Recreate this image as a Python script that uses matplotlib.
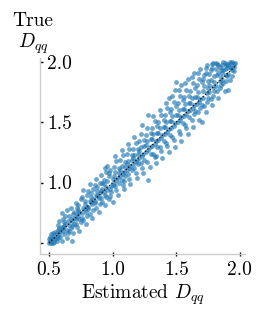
import matplotlib
matplotlib.use('Agg')
import matplotlib.pyplot as plt

# estimated vs true D_qq, read off the picture by bins along the diagonal
est = [
    0.50, 0.51, 0.52, 0.51, 0.53, 0.52, 0.54, 0.53, 0.55, 0.54, 0.50, 0.52, 0.55, 0.53,
    0.56, 0.57, 0.56, 0.58, 0.57, 0.59, 0.58, 0.56, 0.59, 0.60, 0.57, 0.58, 0.60,
    0.61, 0.60, 0.62, 0.63, 0.61, 0.64, 0.62, 0.65, 0.63, 0.64, 0.62, 0.65, 0.61, 0.64,
    0.66, 0.68, 0.67, 0.66, 0.69, 0.68, 0.67, 0.70, 0.69, 0.66, 0.70, 0.68, 0.67, 0.70,
    0.71, 0.72, 0.73, 0.71, 0.74, 0.72, 0.75, 0.73, 0.74, 0.71, 0.75, 0.72, 0.74, 0.73,
    0.76, 0.77, 0.78, 0.76, 0.79, 0.77, 0.80, 0.78, 0.79, 0.76, 0.80, 0.78, 0.77, 0.80,
    0.81, 0.82, 0.83, 0.81, 0.84, 0.82, 0.85, 0.83, 0.84, 0.81, 0.85, 0.83, 0.82, 0.85,
    0.86, 0.87, 0.88, 0.86, 0.89, 0.87, 0.90, 0.88, 0.89, 0.86, 0.90, 0.88, 0.87, 0.90,
    0.91, 0.92, 0.93, 0.91, 0.94, 0.92, 0.95, 0.93, 0.94, 0.91, 0.95, 0.93, 0.92, 0.95, 0.94,
    0.96, 0.97, 0.98, 0.96, 0.99, 0.97, 1.00, 0.98, 0.99, 0.96, 1.00, 0.98, 0.97, 1.00,
    1.01, 1.02, 1.03, 1.01, 1.04, 1.02, 1.05, 1.03, 1.04, 1.01, 1.05, 1.03, 1.02, 1.05,
    1.06, 1.07, 1.08, 1.06, 1.09, 1.07, 1.10, 1.08, 1.09, 1.06, 1.10, 1.08, 1.07, 1.10, 1.09,
    1.11, 1.12, 1.13, 1.11, 1.14, 1.12, 1.15, 1.13, 1.14, 1.11, 1.15, 1.13, 1.12, 1.15,
    1.16, 1.17, 1.18, 1.16, 1.19, 1.17, 1.20, 1.18, 1.19, 1.16, 1.20, 1.18, 1.17, 1.20,
    1.21, 1.22, 1.23, 1.21, 1.24, 1.22, 1.25, 1.23, 1.24, 1.21, 1.25, 1.23, 1.22, 1.25,
    1.26, 1.27, 1.28, 1.26, 1.29, 1.27, 1.30, 1.28, 1.29, 1.26, 1.30, 1.28, 1.27, 1.30,
    1.31, 1.32, 1.33, 1.31, 1.34, 1.32, 1.35, 1.33, 1.34, 1.31, 1.35, 1.33, 1.32, 1.35, 1.34,
    1.36, 1.37, 1.38, 1.36, 1.39, 1.37, 1.40, 1.38, 1.39, 1.36, 1.40, 1.38, 1.37, 1.40,
    1.41, 1.42, 1.43, 1.41, 1.44, 1.42, 1.45, 1.43, 1.44, 1.41, 1.45, 1.43, 1.42, 1.45, 1.44,
    1.46, 1.47, 1.48, 1.46, 1.49, 1.47, 1.50, 1.48, 1.49, 1.46, 1.50, 1.48, 1.47, 1.50, 1.49,
    1.51, 1.52, 1.53, 1.51, 1.54, 1.52, 1.55, 1.53, 1.54, 1.51, 1.55, 1.53, 1.52, 1.55, 1.54,
    1.56, 1.57, 1.58, 1.56, 1.59, 1.57, 1.60, 1.58, 1.59, 1.56, 1.60, 1.58, 1.57, 1.60, 1.59,
    1.61, 1.62, 1.63, 1.61, 1.64, 1.62, 1.65, 1.63, 1.64, 1.61, 1.65, 1.63, 1.62, 1.65, 1.64,
    1.66, 1.67, 1.68, 1.66, 1.69, 1.67, 1.70, 1.68, 1.69, 1.66, 1.70, 1.68, 1.67, 1.70, 1.69,
    1.71, 1.72, 1.73, 1.71, 1.74, 1.72, 1.75, 1.73, 1.74, 1.71, 1.75, 1.73, 1.72, 1.75, 1.74,
    1.76, 1.77, 1.78, 1.76, 1.79, 1.77, 1.80, 1.78, 1.79, 1.76, 1.80, 1.78, 1.77, 1.80, 1.79,
    1.81, 1.82, 1.83, 1.81, 1.84, 1.82, 1.85, 1.83, 1.84, 1.81, 1.85, 1.83, 1.82, 1.85, 1.84,
    1.86, 1.87, 1.88, 1.86, 1.89, 1.87, 1.90, 1.88, 1.89, 1.86, 1.90, 1.88, 1.87, 1.90, 1.89,
    1.91, 1.92, 1.91, 1.93, 1.94, 1.92, 1.95, 1.93, 1.94, 1.91, 1.95, 1.96, 1.92, 1.95, 1.94,
]
true = [
    0.50, 0.52, 0.50, 0.55, 0.54, 0.57, 0.51, 0.58, 0.53, 0.56, 0.53, 0.53, 0.59, 0.50,
    0.55, 0.61, 0.52, 0.57, 0.65, 0.55, 0.62, 0.58, 0.60, 0.52, 0.54, 0.68, 0.63,
    0.60, 0.75, 0.57, 0.66, 0.70, 0.61, 0.64, 0.58, 0.72, 0.54, 0.67, 0.68, 0.62, 0.77,
    0.65, 0.52, 0.70, 0.60, 0.74, 0.64, 0.79, 0.66, 0.58, 0.72, 0.71, 0.68, 0.62, 0.76,
    0.70, 0.63, 0.77, 0.83, 0.70, 0.74, 0.67, 0.81, 0.76, 0.66, 0.86, 0.79, 0.60, 0.72,
    0.75, 0.69, 0.82, 0.88, 0.76, 0.79, 0.72, 0.85, 0.66, 0.71, 0.90, 0.78, 0.94, 0.80,
    0.80, 0.74, 0.88, 0.93, 0.82, 0.85, 0.77, 0.91, 0.71, 0.78, 0.95, 0.84, 0.99, 0.86,
    0.85, 0.79, 0.93, 0.98, 0.87, 0.90, 0.82, 0.96, 0.76, 0.83, 1.00, 0.89, 1.03, 0.91,
    0.93, 0.84, 0.99, 1.06, 0.90, 0.95, 0.88, 1.02, 0.81, 0.87, 1.09, 0.92, 1.00, 0.96, 1.12,
    0.94, 1.05, 0.89, 1.01, 0.97, 0.86, 1.03, 1.10, 0.92, 1.14, 0.98, 0.95, 1.08, 0.84,
    1.00, 1.09, 0.94, 1.13, 1.04, 0.97, 1.08, 1.18, 0.90, 1.05, 1.00, 1.02, 1.22, 1.12,
    1.05, 1.14, 0.98, 1.19, 1.09, 1.02, 1.13, 1.23, 0.95, 1.10, 1.05, 1.07, 1.27, 1.17, 1.01,
    1.10, 1.18, 1.03, 1.24, 1.14, 1.07, 1.19, 1.28, 0.99, 1.15, 1.10, 1.12, 1.32, 1.23,
    1.15, 1.23, 1.08, 1.28, 1.19, 1.12, 1.24, 1.33, 1.04, 1.20, 1.15, 1.17, 1.38, 1.28,
    1.20, 1.29, 1.12, 1.34, 1.24, 1.16, 1.30, 1.48, 1.08, 1.26, 1.19, 1.22, 1.40, 1.35,
    1.25, 1.34, 1.56, 1.39, 1.29, 1.17, 1.36, 1.02, 1.13, 1.31, 1.24, 1.27, 1.45, 1.41,
    1.30, 1.40, 1.21, 1.45, 1.34, 1.24, 1.41, 1.51, 1.16, 1.36, 1.29, 1.32, 1.55, 1.47, 1.22,
    1.35, 1.45, 1.26, 1.50, 1.39, 1.29, 1.46, 1.56, 1.20, 1.41, 1.34, 1.37, 1.60, 1.52,
    1.40, 1.50, 1.30, 1.56, 1.44, 1.33, 1.51, 1.62, 1.25, 1.46, 1.39, 1.42, 1.66, 1.58, 1.70,
    1.45, 1.55, 1.35, 1.61, 1.49, 1.38, 1.56, 1.67, 1.29, 1.51, 1.83, 1.47, 1.72, 1.63, 1.77,
    1.50, 1.60, 1.40, 1.66, 1.54, 1.43, 1.61, 1.72, 1.34, 1.56, 1.49, 1.52, 1.77, 1.68, 1.81,
    1.55, 1.65, 1.45, 1.71, 1.59, 1.48, 1.66, 1.77, 1.40, 1.61, 1.54, 1.57, 1.82, 1.72, 1.86,
    1.60, 1.70, 1.46, 1.76, 1.64, 1.52, 1.71, 1.82, 1.57, 1.66, 1.59, 1.62, 1.87, 1.78, 1.91,
    1.65, 1.75, 1.52, 1.81, 1.69, 1.58, 1.50, 1.86, 1.62, 1.71, 1.64, 1.67, 1.91, 1.83, 1.94,
    1.70, 1.80, 1.58, 1.86, 1.74, 1.63, 1.78, 1.91, 1.67, 1.76, 1.70, 1.95, 1.89, 1.84, 1.97,
    1.75, 1.85, 1.64, 1.90, 1.79, 1.69, 1.83, 1.95, 1.72, 1.81, 1.76, 1.98, 1.93, 1.88, 1.99,
    1.80, 1.89, 1.70, 1.94, 1.84, 1.76, 1.87, 1.97, 1.78, 1.99, 1.93, 1.91, 1.98, 1.81, 1.96,
    1.85, 1.93, 1.76, 1.97, 1.89, 1.82, 1.95, 1.99, 1.84, 1.91, 1.98, 1.94, 2.00, 1.88, 1.97,
    1.90, 1.96, 1.77, 1.99, 1.93, 1.85, 1.98, 1.95, 2.00, 1.97, 1.92, 1.99, 2.00, 1.96, 1.88,
]
diag = [0.5, 1.97]
xticks = [0.5, 1.0, 1.5, 2.0]
xticklabels = ['0.5', '1.0', '1.5', '2.0']
yticks = [0.5, 1.0, 1.5, 2.0]
yticklabels = ['', '1.0', '1.5', '2.0']

plt.rcParams['font.family'] = 'serif'
plt.rcParams['font.serif'] = ['cmr10']
plt.rcParams['mathtext.fontset'] = 'cm'
plt.rcParams['axes.unicode_minus'] = False
plt.rcParams['font.size'] = 14

fig = plt.figure(figsize=(2.66, 3.21), dpi=100)
ax = fig.add_axes([0.150, 0.209, 0.771, 0.610])

ax.scatter(est, true, s=12, color='#1f77b4', alpha=0.65, linewidths=0)
ax.plot(diag, diag, color='black', ls=':', lw=0.9)

ax.set_xlim(0.429, 2.04)
ax.set_ylim(0.409, 2.03)
ax.set_xticks(xticks)
ax.set_xticklabels(xticklabels)
ax.set_yticks(yticks)
ax.set_yticklabels(yticklabels)

for s in ['top', 'right']:
    ax.spines[s].set_visible(False)
for s in ['left', 'bottom']:
    ax.spines[s].set_color('#cccccc')
    ax.spines[s].set_linewidth(1.0)

ax.tick_params(axis='x', direction='inout', length=3, width=1, pad=4)
ax.tick_params(axis='y', direction='in', length=2.5, width=1, pad=-5)
for lab in ax.get_yticklabels():
    lab.set_horizontalalignment('left')

ax.set_xlabel('Estimated $D_{qq}$', labelpad=2)
ax.set_ylabel('True\n$D_{qq}$', rotation=0, ha='center', va='bottom',
              linespacing=1.1)
ax.yaxis.set_label_coords(-0.035, 1.01)

fig.savefig('out.png', dpi=100)
